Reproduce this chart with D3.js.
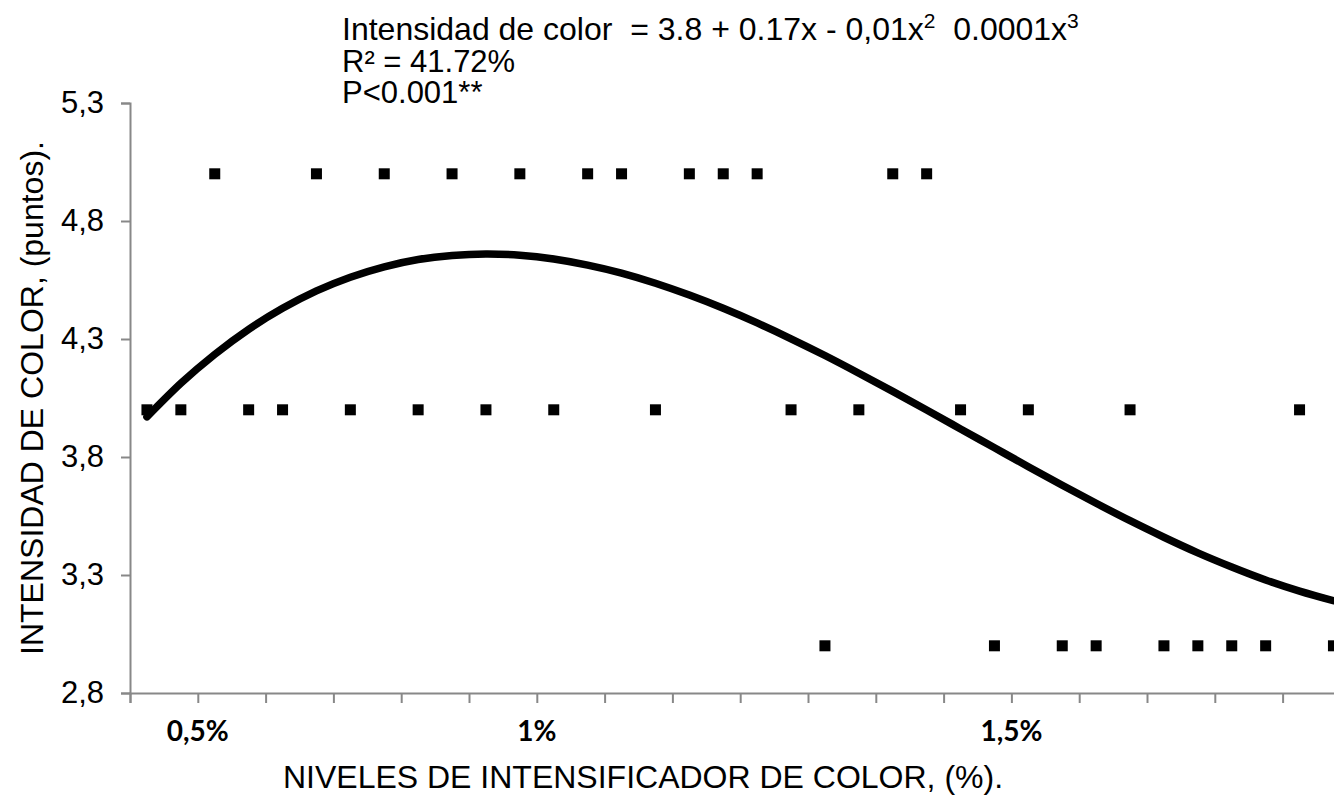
<!DOCTYPE html>
<html>
<head>
<meta charset="utf-8">
<script src="https://cdn.jsdelivr.net/npm/d3@7"></script>
<style>
  body { margin: 0; background: #fff; }
  text { font-family: "Liberation Sans", Arial, sans-serif; }
</style>
</head>
<body>
<div id="chart"></div>
<script>

// observed scores, one per sample, in order along the x axis
var scores = [4, 4, 5, 4, 4, 5, 4, 5, 4, 5, 4, 5, 4, 5, 5, 4, 5, 5,
              5, 4, 3, 4, 5, 5, 4, 3, 4, 3, 3, 4, 3, 3, 3, 3, 4, 3];

// fitted curve at each sample
var fitted = [3.970, 4.112, 4.235, 4.341, 4.430, 4.504, 4.562, 4.606, 4.637, 4.654,
              4.660, 4.655, 4.639, 4.613, 4.579, 4.536, 4.486, 4.430, 4.368, 4.301,
              4.230, 4.155, 4.078, 3.999, 3.919, 3.839, 3.759, 3.680, 3.604, 3.530,
              3.460, 3.394, 3.334, 3.279, 3.232, 3.191];

// x labels (only a few tick positions carry one)
var xLabels = [{ i: 2, label: "0,5%" }, { i: 12, label: "1%" }, { i: 26, label: "1,5%" }];

var yTicks = [2.8, 3.3, 3.8, 4.3, 4.8, 5.3];

var equation = ["Intensidad de color  = 3.8 + 0.17x - 0,01x", "2", "  0.0001x", "3"];
var stats = ["R\u00B2 = 41.72%", "P<0.001**"];

//Width and height
var w = 1334;
var h = 795;

var plotLeft = 130, plotRight = 1350.4, plotTop = 103, plotBottom = 693;

var svg = d3.select("#chart")
  .append("svg")
  .attr("width", w)
  .attr("height", h);

var x = d3.scaleLinear().domain([0, scores.length]).range([plotLeft, plotRight]);
var y = d3.scaleLinear().domain([2.8, 5.3]).range([plotBottom, plotTop]);

var axisColor = "#888888";

// y axis
var yAxis = svg.append("g")
  .attr("transform", "translate(" + plotLeft + ",0)")
  .call(d3.axisLeft(y).tickValues(yTicks).tickSize(9).tickPadding(17)
    .tickFormat(function(d) { return d3.format(".1f")(d).replace(".", ","); }));
yAxis.select(".domain").attr("stroke", axisColor).attr("stroke-width", 2);
yAxis.selectAll(".tick line").attr("stroke", axisColor).attr("stroke-width", 2);
yAxis.selectAll(".tick text")
  .attr("font-family", '"Liberation Sans", Arial, sans-serif')
  .attr("font-size", 31)
  .attr("fill", "#000");

// x axis: tick marks every two samples, no text
var xTickVals = d3.range(0, scores.length + 1, 2);
var xAxis = svg.append("g")
  .attr("transform", "translate(0," + plotBottom + ")")
  .call(d3.axisBottom(x).tickValues(xTickVals).tickSize(10).tickFormat(""));
xAxis.select(".domain").attr("stroke", axisColor).attr("stroke-width", 2);
xAxis.selectAll(".tick line").attr("stroke", axisColor).attr("stroke-width", 2);

// x labels
svg.selectAll("xlabels")
  .data(xLabels)
  .enter()
  .append("text")
  .attr("x", function(d) { return x(d.i); })
  .attr("y", 741)
  .attr("text-anchor", "middle")
  .style("font-family", "Lato, 'Open Sans', sans-serif")
  .style("font-weight", "bold")
  .attr("font-size", 28)
  .text(function(d) { return d.label; });

// clip to the visible area (chart runs off the right edge)
svg.append("clipPath").attr("id", "plotclip")
  .append("rect").attr("x", 0).attr("y", 0).attr("width", w).attr("height", plotBottom);

var plot = svg.append("g").attr("clip-path", "url(#plotclip)");

// fitted curve
var line = d3.line()
  .x(function(d, i) { return x(i + 0.5); })
  .y(function(d) { return y(d); })
  .curve(d3.curveNatural);

plot.append("path")
  .datum(fitted)
  .attr("d", line)
  .attr("fill", "none")
  .attr("stroke", "#000")
  .attr("stroke-width", 7.5)
  .attr("stroke-linecap", "round");

// square markers
var size = 11;
plot.selectAll("marks")
  .data(scores)
  .enter()
  .append("rect")
  .attr("x", function(d, i) { return x(i + 0.5) - size / 2; })
  .attr("y", function(d) { return y(d) - size / 2; })
  .attr("width", size)
  .attr("height", size)
  .attr("fill", "#000");

// axis titles
svg.append("text")
  .attr("x", 643)
  .attr("y", 788)
  .attr("text-anchor", "middle")
  .attr("font-size", 32)
  .text("NIVELES DE INTENSIFICADOR DE COLOR, (%).");

svg.append("text")
  .attr("transform", "translate(43,398) rotate(-90)")
  .attr("text-anchor", "middle")
  .attr("font-size", 32)
  .text("INTENSIDAD DE COLOR, (puntos).");

// equation block
var eq = svg.append("text")
  .attr("x", 342)
  .attr("y", 40)
  .attr("font-size", 32)
  .style("white-space", "pre");
eq.append("tspan").text(equation[0]);
eq.append("tspan").attr("font-size", 21).attr("dy", -12).text(equation[1]);
eq.append("tspan").attr("dy", 12).text(equation[2]);
eq.append("tspan").attr("font-size", 21).attr("dy", -12).text(equation[3]);

svg.selectAll("stats")
  .data(stats)
  .enter()
  .append("text")
  .attr("x", 342)
  .attr("y", function(d, i) { return 72 + i * 31; })
  .attr("font-size", 31)
  .text(function(d) { return d; });

</script>
</body>
</html>
